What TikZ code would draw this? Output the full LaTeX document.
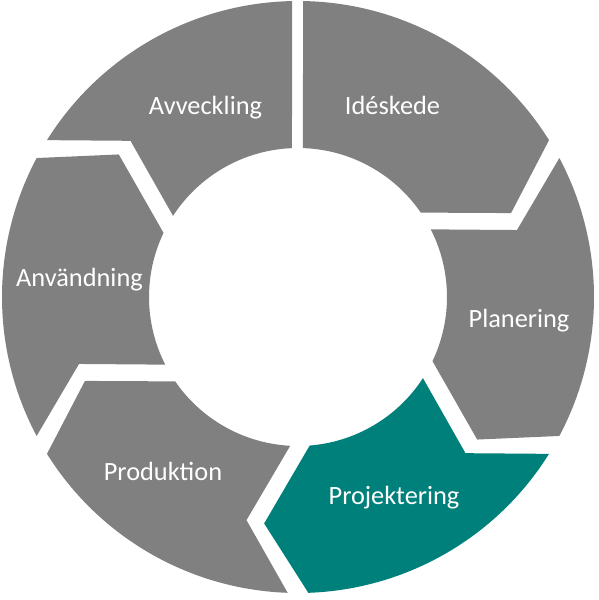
\documentclass[tikz,border=0pt]{standalone}
\usepackage{fontspec}
\setmainfont{Carlito}
\definecolor{phasegray}{RGB}{128,128,128}
\definecolor{phaseteal}{RGB}{0,128,122}
\tikzset{
  phase/.style={fill=phasegray},
  phasetext/.style={text=white, font=\fontsize{15}{18}\selectfont, anchor=base}
}
\begin{document}
\begin{tikzpicture}[scale=0.02]
  \useasboundingbox (-298,-303) rectangle (301,297);

  % Idéskede
  \fill[phase] (89.03:296) arc[start angle=89.03, end angle=32, radius=296] -- (21.5:229) -- (34.5:149) arc[start angle=34.5, end angle=88.08, radius=149] -- cycle;
  % Planering
  \fill[phase] (28:296) arc[start angle=28, end angle=-28, radius=296] -- (-38.5:229) -- (-25.5:149) arc[start angle=-25.5, end angle=27, radius=149] -- (17:229) -- cycle;
  % Projektering
  \fill[fill=phaseteal] (-32:296) arc[start angle=-32, end angle=-88, radius=296] -- (-98.5:229) -- (-85.5:149) arc[start angle=-85.5, end angle=-33, radius=149] -- (-43:229) -- cycle;
  % Produktion
  \fill[phase] (-92:296) arc[start angle=-92, end angle=-148, radius=296] -- (-158.5:229) -- (-145.5:149) arc[start angle=-145.5, end angle=-93, radius=149] -- (-103:229) -- cycle;
  % Användning
  \fill[phase] (-152:296) arc[start angle=-152, end angle=-208, radius=296] -- (-218.5:229) -- (-205.5:149) arc[start angle=-205.5, end angle=-153, radius=149] -- (-163:229) -- cycle;
  % Avveckling
  \fill[phase] (-212:296) arc[start angle=-212, end angle=-268.84, radius=296] -- (-267.69:149) arc[start angle=-267.69, end angle=-213, radius=149] -- (-223:229) -- cycle;

  \node[phasetext] (ideskede) at (94.5,182) {Idéskede};
  \node[phasetext] (planering) at (221,-30) {Planering};
  \node[phasetext] (projektering) at (96,-207) {Projektering};
  \node[phasetext] (produktion) at (-135,-183) {Produktion};
  \node[phasetext] (anvandning) at (-218.5,10) {Användning};
  \node[phasetext] (avveckling) at (-92.5,182) {Avveckling};
\end{tikzpicture}
\end{document}
